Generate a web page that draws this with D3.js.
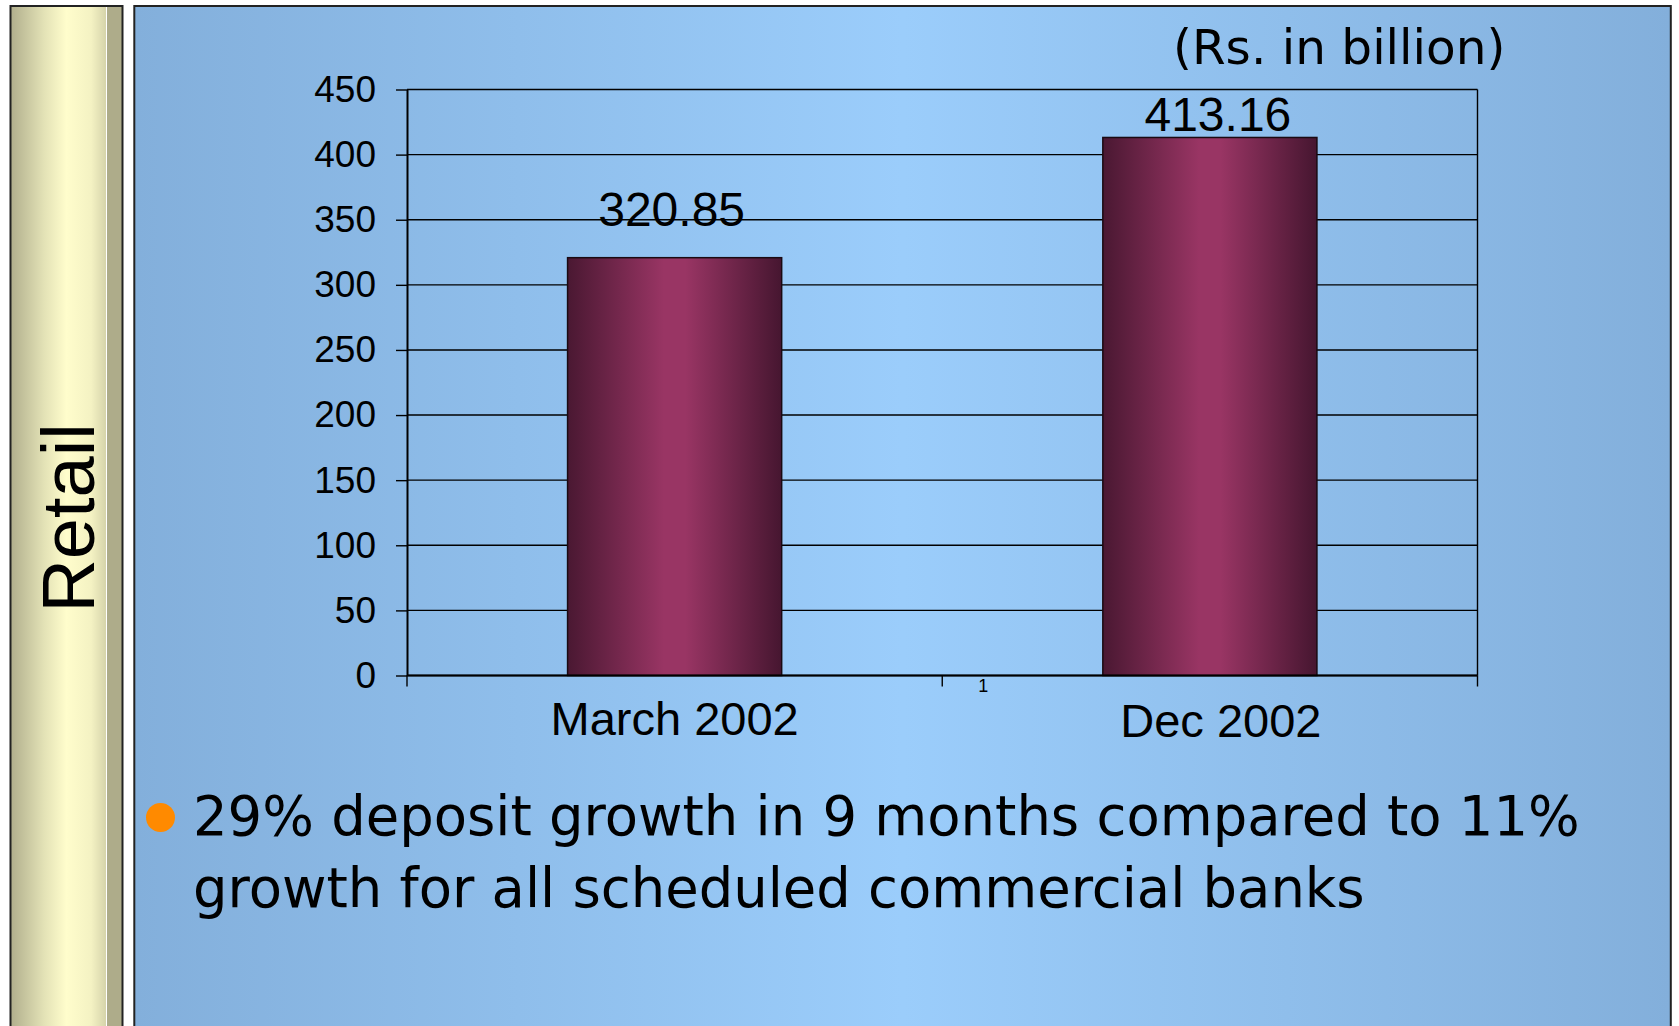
<!DOCTYPE html>
<html>
<head>
<meta charset="utf-8">
<script src="https://cdn.jsdelivr.net/npm/d3@7"></script>
<style>
    html, body { margin: 0; padding: 0; background: #fff; }
    svg { display: block; }
</style>
</head>
<body>
<div id="chart"></div>
<script>
// Values
const categories = ['March 2002', 'Dec 2002'];
const deposits = [320.85, 413.16];
const yTicks = [0, 50, 100, 150, 200, 250, 300, 350, 400, 450];
const unitLabel = '(Rs. in billion)';
const sideTitle = 'Retail';
const bulletLines = [
    '29% deposit growth in 9 months compared to 11%',
    'growth for all scheduled commercial banks'
];

const width = 1679;
const height = 1026;

const svg = d3.select('#chart').append('svg')
    .attr('width', width)
    .attr('height', height)
    .attr('viewBox', `0 0 ${width} ${height}`);

const defs = svg.append('defs');

// slide background: light in the middle, darker blue at both sides
const bg = defs.append('linearGradient').attr('id', 'slideBg')
    .attr('x1', '0%').attr('x2', '100%').attr('y1', '0%').attr('y2', '0%');
bg.append('stop').attr('offset', '0%').attr('stop-color', '#83afdb');
bg.append('stop').attr('offset', '50%').attr('stop-color', '#9bcdfb');
bg.append('stop').attr('offset', '100%').attr('stop-color', '#83afdb');

// cream column on the left
const side = defs.append('linearGradient').attr('id', 'sideBg')
    .attr('x1', '0%').attr('x2', '100%').attr('y1', '0%').attr('y2', '0%');
side.append('stop').attr('offset', '0%').attr('stop-color', '#b0ae8c');
side.append('stop').attr('offset', '30%').attr('stop-color', '#e3e2b6');
side.append('stop').attr('offset', '50%').attr('stop-color', '#fffdcc');
side.append('stop').attr('offset', '72%').attr('stop-color', '#f4f2c3');
side.append('stop').attr('offset', '100%').attr('stop-color', '#b4b290');

// bar shading
const barGrad = defs.append('linearGradient').attr('id', 'barFill')
    .attr('x1', '0%').attr('x2', '100%').attr('y1', '0%').attr('y2', '0%');
barGrad.append('stop').attr('offset', '0%').attr('stop-color', '#4a1832');
barGrad.append('stop').attr('offset', '45%').attr('stop-color', '#993564');
barGrad.append('stop').attr('offset', '55%').attr('stop-color', '#993564');
barGrad.append('stop').attr('offset', '100%').attr('stop-color', '#461630');

// panels
svg.append('rect')
    .attr('x', 10.5).attr('y', 6)
    .attr('width', 112).attr('height', height)
    .attr('fill', 'url(#sideBg)');
svg.append('rect')
    .attr('x', 107).attr('y', 6)
    .attr('width', 15).attr('height', height)
    .attr('fill', '#aeac8a');
svg.append('line')
    .attr('x1', 106.5).attr('x2', 106.5).attr('y1', 6).attr('y2', height)
    .attr('stroke', '#fff').attr('stroke-width', 1);
svg.append('rect')
    .attr('x', 10.5).attr('y', 6)
    .attr('width', 112).attr('height', height + 10)
    .attr('fill', 'none').attr('stroke', '#222').attr('stroke-width', 2);

svg.append('text')
    .attr('transform', 'translate(94,518) rotate(-90)')
    .attr('text-anchor', 'middle')
    .style('font-family', '"Liberation Sans", Arial, sans-serif')
    .style('font-size', '74px')
    .style('fill', '#000')
    .text(sideTitle);

svg.append('rect')
    .attr('x', 134.3).attr('y', 6)
    .attr('width', 1536.5).attr('height', height + 10)
    .attr('fill', 'url(#slideBg)')
    .attr('stroke', '#222').attr('stroke-width', 2);

// chart area
const plot = { left: 407, right: 1477.5, top: 89.5, bottom: 675.5 };

const x = d3.scaleBand()
    .domain(categories)
    .range([plot.left, plot.right])
    .paddingInner(0.6)
    .paddingOuter(0.3);

const y = d3.scaleLinear()
    .domain([0, 450])
    .range([plot.bottom, plot.top]);

// the second category's texts sit a little right of its bar on the slide
const labelX = (i) => x(categories[i]) + x.bandwidth() / 2 + (i === 1 ? 11 : 0);

const g = svg.append('g');

// gridlines
g.append('g').selectAll('line')
    .data(yTicks)
    .join('line')
    .attr('x1', plot.left).attr('x2', plot.right)
    .attr('y1', d => y(d)).attr('y2', d => y(d))
    .attr('stroke', '#000').attr('stroke-width', 1.4);

// right edge of plot frame
g.append('line')
    .attr('x1', plot.right).attr('x2', plot.right)
    .attr('y1', plot.top).attr('y2', plot.bottom)
    .attr('stroke', '#000').attr('stroke-width', 1.4);

// bars
g.append('g').selectAll('rect')
    .data(deposits)
    .join('rect')
    .attr('x', (d, i) => x(categories[i]))
    .attr('y', d => y(d))
    .attr('width', x.bandwidth())
    .attr('height', d => y(0) - y(d))
    .attr('fill', 'url(#barFill)')
    .attr('stroke', '#1a0a12')
    .attr('stroke-width', 1.5);

// value labels (kept inside the plot near the top)
g.append('g').selectAll('text')
    .data(deposits)
    .join('text')
    .attr('x', (d, i) => labelX(i) - 3)
    .attr('y', d => Math.max(y(d) - 31.5, plot.top + 41.5))
    .attr('text-anchor', 'middle')
    .style('font-family', '"Liberation Sans", Arial, sans-serif')
    .style('font-size', '48px')
    .style('fill', '#000')
    .text(d => d.toFixed(2));

// y axis
const yAxis = g.append('g')
    .attr('transform', `translate(${plot.left},0)`)
    .call(d3.axisLeft(y).tickValues(yTicks).tickSize(11).tickSizeOuter(0).tickPadding(20));
yAxis.select('.domain').attr('stroke', '#000').attr('stroke-width', 2);
yAxis.selectAll('.tick line').attr('stroke', '#000').attr('stroke-width', 1.4);
yAxis.selectAll('.tick text')
    .style('font-family', '"Liberation Sans", Arial, sans-serif')
    .style('font-size', '37px')
    .style('fill', '#000');

// x axis line and category boundary ticks
g.append('line')
    .attr('x1', plot.left).attr('x2', plot.right)
    .attr('y1', plot.bottom).attr('y2', plot.bottom)
    .attr('stroke', '#000').attr('stroke-width', 2);

const edges = [plot.left].concat(categories.map(c => x(c) + x.bandwidth() / 2 + x.step() / 2));
g.append('g').selectAll('line')
    .data(edges)
    .join('line')
    .attr('x1', d => d).attr('x2', d => d)
    .attr('y1', plot.bottom).attr('y2', plot.bottom + 11)
    .attr('stroke', '#000').attr('stroke-width', 1.4);

g.append('g').selectAll('text')
    .data(categories)
    .join('text')
    .attr('x', (d, i) => labelX(i))
    .attr('y', (d, i) => 735 + i * 2)
    .attr('text-anchor', 'middle')
    .style('font-family', '"Liberation Sans", Arial, sans-serif')
    .style('font-size', '47px')
    .style('fill', '#000')
    .text(d => d);

// stray "1" left over under the axis on the original slide
g.append('text')
    .attr('x', (plot.left + plot.right) / 2 + 41)
    .attr('y', plot.bottom + 16)
    .attr('text-anchor', 'middle')
    .style('font-family', '"Liberation Sans", Arial, sans-serif')
    .style('font-size', '18px')
    .style('fill', '#000')
    .text('1');

// unit note
svg.append('text')
    .attr('x', 1173)
    .attr('y', 64)
    .style('font-family', '"DejaVu Sans", sans-serif')
    .style('font-size', '48.5px')
    .style('fill', '#000')
    .text(unitLabel);

// bullet
svg.append('circle')
    .attr('cx', 160.5).attr('cy', 817.5).attr('r', 14.5)
    .attr('fill', '#ff8a00');

svg.append('g').selectAll('text')
    .data(bulletLines)
    .join('text')
    .attr('x', 193)
    .attr('y', (d, i) => 835 + i * 72)
    .style('font-family', '"DejaVu Sans", sans-serif')
    .style('font-size', '54.4px')
    .style('fill', '#000')
    .text(d => d);
</script>
</body>
</html>
